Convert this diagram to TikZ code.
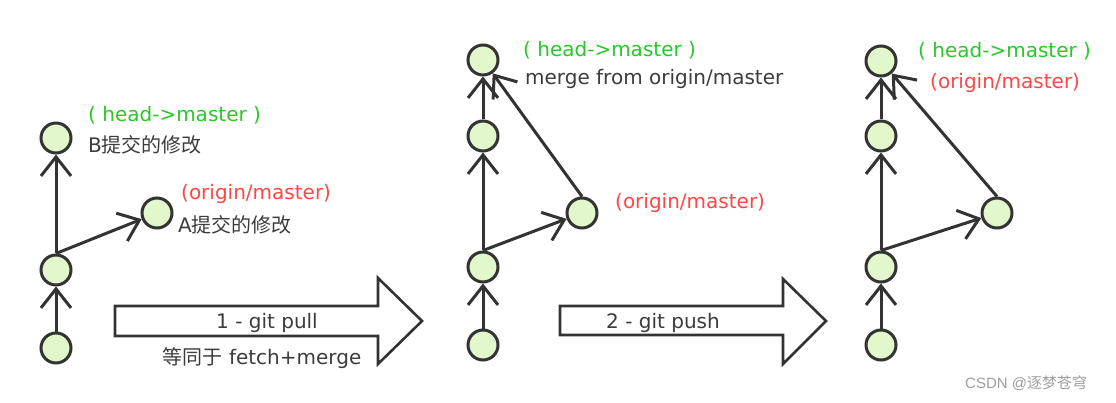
\documentclass[tikz,border=0pt]{standalone}
\usepackage{fontspec}
\setmainfont{DejaVu Sans}
\newfontfamily\cjk{Noto Sans CJK SC}
\newfontfamily\wmfont{Liberation Sans}
\usepackage{tikz}
\usetikzlibrary{arrows.meta}
\definecolor{commitfill}{RGB}{226,247,204}
\definecolor{linegray}{RGB}{51,51,51}
\definecolor{headgreen}{RGB}{40,200,40}
\definecolor{originred}{RGB}{255,70,70}
\definecolor{textgray}{RGB}{60,60,60}

\begin{document}
\begin{tikzpicture}[x=1pt,y=-1pt,
  commit/.style={circle,draw=linegray,line width=3pt,fill=commitfill,minimum size=30pt,inner sep=0pt},
  edge/.style={draw=linegray,line width=3pt,-{Straight Barb[length=19pt,width=30pt,line width=3pt]}},
  lbl/.style={anchor=west,inner sep=0pt,font=\fontsize{20}{22}\selectfont,text height=14pt,text depth=4pt},
  headlbl/.style={lbl,text=headgreen},
  originlbl/.style={lbl,text=originred},
  notelbl/.style={lbl,text=textgray},
  bigarrow/.style={draw=linegray,line width=2.6pt,fill=white,line join=miter}]
\useasboundingbox (0,0) rectangle (1116,403);
% panel 1
\node[commit] (a1) at (56,348) {};
\node[commit] (a2) at (56,270) {};
\node[commit] (a3) at (56,138) {};
\node[commit] (a4) at (157,213) {};
\draw[edge] (a1) -- (a2);
\draw[edge] (a2.north) -- (a3);
\draw[edge] (a2.north) -- (a4);
\node[headlbl] (a3head) at (88,117) {( head->master )};
\node[notelbl] (a3note) at (88,148) {B{\cjk 提交的修改}};
\node[originlbl] (a4origin) at (181,195) {(origin/master)};
\node[notelbl] (a4note) at (178,228) {A{\cjk 提交的修改}};
% pull
\draw[bigarrow] (115,306) -- (378,306) -- (378,278) -- (422,321) -- (378,364) -- (378,336) -- (115,336) -- cycle;
\node[notelbl,anchor=center] (pull) at (267,323) {1 - git pull};
\node[notelbl,anchor=center] (pullnote) at (262,359) {{\cjk 等同于} fetch+merge};
% panel 2
\node[commit] (b1) at (483,345) {};
\node[commit] (b2) at (483,267) {};
\node[commit] (b3) at (483,136) {};
\node[commit] (b4) at (483,60) {};
\node[commit] (b5) at (582,213) {};
\draw[edge] (b1) -- (b2);
\draw[edge] (b2.north) -- (b3);
\draw[edge] (b3) -- (b4);
\draw[edge] (b2.north) -- (b5);
\draw[edge] (b5.north) -- (b4);
\node[headlbl] (b4head) at (523,52) {( head->master )};
\node[notelbl] (b4note) at (525,80) {merge from origin/master};
\node[originlbl] (b5origin) at (615,204) {(origin/master)};
% push
\draw[bigarrow] (560,306) -- (783,306) -- (783,279) -- (826,321) -- (783,364) -- (783,335) -- (560,335) -- cycle;
\node[notelbl,anchor=center] (push) at (663,323) {2 - git push};
% panel 3
\node[commit] (c1) at (881,345) {};
\node[commit] (c2) at (881,267) {};
\node[commit] (c3) at (881,136) {};
\node[commit] (c4) at (881,61) {};
\node[commit] (c5) at (997,213) {};
\draw[edge] (c1) -- (c2);
\draw[edge] (c2.north) -- (c3);
\draw[edge] (c3) -- (c4);
\draw[edge] (c2.north) -- (c5);
\draw[edge] (c5.north) -- (c4);
\node[headlbl] (c4head) at (918,53) {( head->master )};
\node[originlbl] (c4origin) at (930,84) {(origin/master)};
\node[anchor=west,inner sep=0pt,text=black!38,font=\wmfont\fontsize{15}{17}\selectfont] (mark) at (965,383) {CSDN @{\cjk 逐梦苍穹}};
\end{tikzpicture}
\end{document}
